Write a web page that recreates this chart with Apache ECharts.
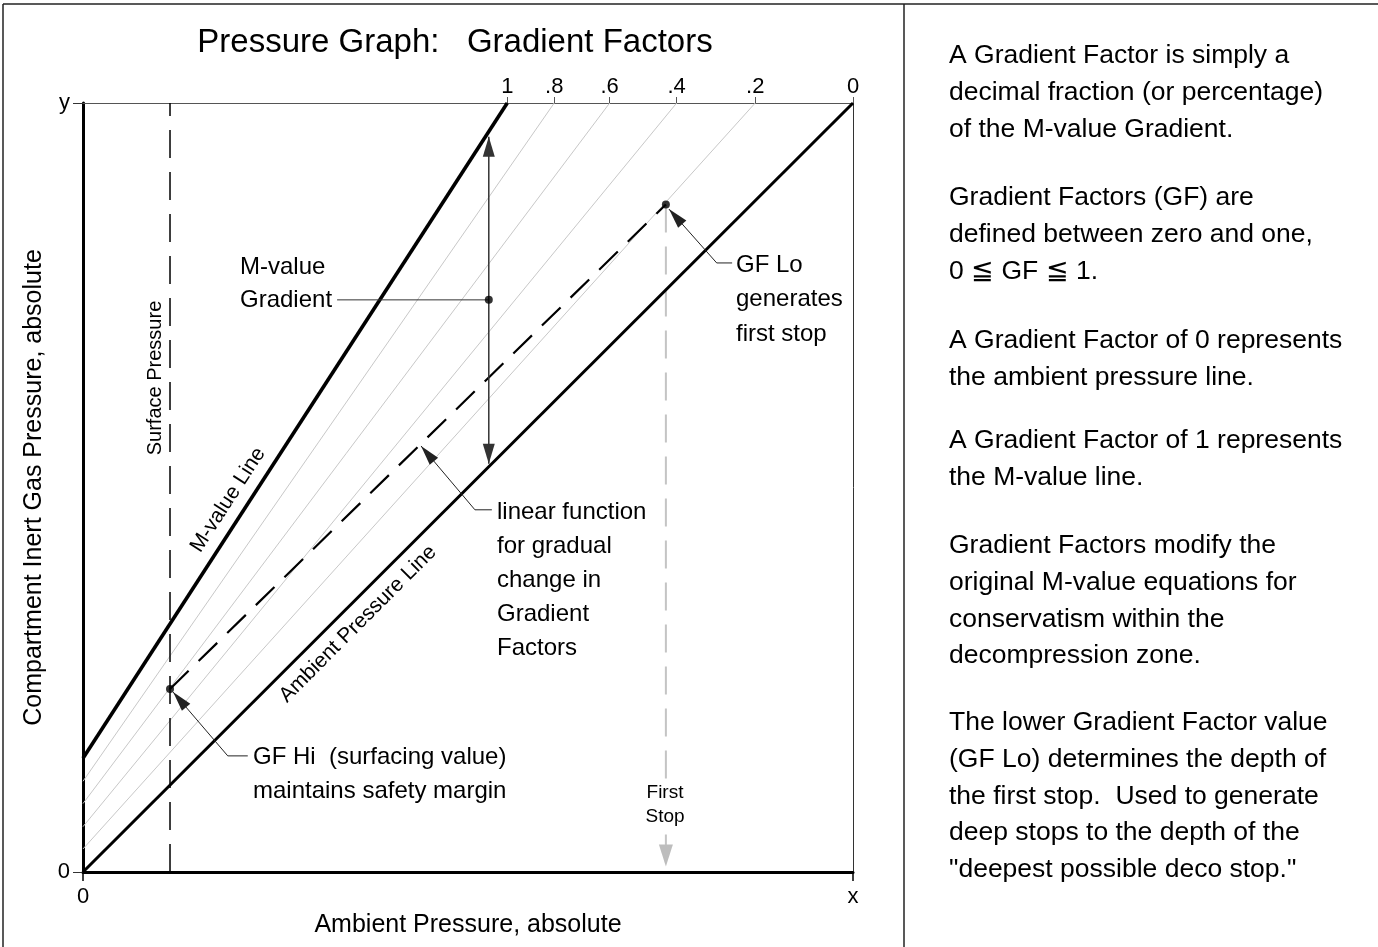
<!DOCTYPE html>
<html>
<head>
<meta charset="utf-8">
<title>Pressure Graph: Gradient Factors</title>
<script src="https://cdn.jsdelivr.net/npm/echarts@6.0.0/dist/echarts.min.js"></script>
<style>
  html, body { margin: 0; padding: 0; background: #fff; }
  #chart { width: 1378px; height: 947px; }
</style>
</head>
<body>
<div id="chart"></div>
<script>
// ---- values, both axes run 0..100 ----
const gfLabels = ['1', '.8', '.6', '.4', '.2', '0'];
const gfStartY = [14.8, 11.8, 8.9, 5.9, 3.0, 0];      // where each GF line leaves the y axis
const gfTopX   = [55.1, 61.2, 68.4, 77.1, 87.3, 100];  // where each GF line meets the top edge
const surfaceX = 11.3;
const gfHi = [11.3, 23.8];
const gfLo = [75.7, 86.8];
const gradientDot = [52.7, 74.4];
const gradientSpan = [[52.7, 95.6], [52.7, 53.1]];
const firstStopDrop = [[75.7, 86.8], [75.7, 0.7]];
const leaderGfLo = [[84.3, 79.2], [82.3, 79.2], [76.1, 86.2]];
const leaderGfHi = [[21.4, 15.1], [18.8, 15.1], [11.7, 23.4]];
const leaderLinear = [[53.1, 47.1], [50.9, 47.1], [43.9, 55.4]];
const leaderGradient = [[33.0, 74.4], [52.7, 74.4]];

const notes = [
  ['A Gradient Factor is simply a', 'decimal fraction (or percentage)', 'of the M-value Gradient.'],
  ['Gradient Factors (GF) are', 'defined between zero and one,', '0 \u2266 GF \u2266 1.'],
  ['A Gradient Factor of 0 represents', 'the ambient pressure line.'],
  ['A Gradient Factor of 1 represents', 'the M-value line.'],
  ['Gradient Factors modify the', 'original M-value equations for', 'conservatism within the', 'decompression zone.'],
  ['The lower Gradient Factor value', '(GF Lo) determines the depth of', 'the first stop.  Used to generate',
   'deep stops to the depth of the', '"deepest possible deco stop."']
];
const noteTops = [37.7, 179.7, 322.7, 422.7, 527.7, 704.7];

// =====================================================================
const FONT = '"Liberation Sans", Arial, Helvetica, sans-serif';
const chart = echarts.init(document.getElementById('chart'));

function segment(data, color, width, dash, z) {
  return {
    type: 'line', data, symbol: 'none', silent: true, clip: false, z,
    lineStyle: { color, width, type: dash || 'solid', cap: 'butt' }
  };
}

function head(tip, from, o) {
  const dx = tip[0] - from[0], dy = tip[1] - from[1];
  const len = Math.hypot(dx, dy), ux = dx / len, uy = dy / len;
  const bx = tip[0] - ux * o.len, by = tip[1] - uy * o.len, hw = o.head / 2;
  return {
    type: 'polygon',
    shape: { points: [tip, [bx - uy * hw, by + ux * hw], [bx + uy * hw, by - ux * hw]] },
    style: { fill: o.headColor || o.color }
  };
}

function arrowSeries(paths, o) {
  return {
    type: 'custom', silent: true, clip: false, z: o.z || 6,
    data: paths.map((p, i) => [p[0][0], p[0][1], i]),
    renderItem: (params, api) => {
      const pts = paths[params.dataIndex].map(p => api.coord(p));
      const n = pts.length;
      const kids = [{
        type: 'polyline', shape: { points: pts },
        style: { stroke: o.color, lineWidth: o.width, fill: null, lineDash: o.dash || null }
      }];
      if (o.len) kids.push(head(pts[n - 1], pts[n - 2], o));
      if (o.both) kids.push(head(pts[0], pts[1], o));
      return { type: 'group', children: kids };
    }
  };
}

function text(str, x, y, size, extra) {
  const e = extra || {};
  return {
    type: 'text', x, y, rotation: e.rotation || 0, silent: true, z: 10,
    style: {
      text: str, fontSize: size, fontFamily: FONT, fill: e.fill || '#000',
      align: e.align || 'left', verticalAlign: e.valign || 'top',
      lineHeight: e.lineHeight, backgroundColor: e.bg, padding: e.pad
    }
  };
}

const series = [];
for (let i = 1; i < gfLabels.length - 1; i++) {
  series.push(segment([[0, gfStartY[i]], [gfTopX[i], 100]], '#c8c8c8', 1, null, 1));
}
series.push(segment([[0, gfStartY[0]], [gfTopX[0], 100]], '#000', 3.6, null, 4));       // M-value line
series.push(segment([[0, 0], [100, 100]], '#000', 3, null, 4));                          // ambient line
series.push(segment([[surfaceX, 0], [surfaceX, 100]], '#000', 1.5, [28, 14], 3));        // surface pressure
series.push(segment([gfHi, gfLo], '#000', 2.2, [26, 14], 3));                            // linear GF function
series.push(arrowSeries([firstStopDrop], { color: '#c4c4c4', width: 2, dash: [28, 14], len: 22, head: 14, headColor: '#bdbdbd', z: 2 }));
series.push(arrowSeries([gradientSpan], { color: '#333', width: 1.5, len: 20, head: 12, both: true }));
series.push(arrowSeries([leaderGradient], { color: '#333', width: 1 }));
series.push(arrowSeries([leaderGfLo, leaderGfHi, leaderLinear], { color: '#222', width: 1, len: 20, head: 11 }));
series.push({
  type: 'scatter', data: [gfHi, gfLo, gradientDot], symbolSize: 8, silent: true, z: 8,
  itemStyle: { color: '#000' }
});

const graphic = [
  { type: 'line', shape: { x1: 3, y1: 4, x2: 1378, y2: 4 }, style: { stroke: '#222', lineWidth: 1.5 } },
  { type: 'line', shape: { x1: 3, y1: 4, x2: 3, y2: 947 }, style: { stroke: '#222', lineWidth: 1.5 } },
  { type: 'line', shape: { x1: 904, y1: 4, x2: 904, y2: 947 }, style: { stroke: '#222', lineWidth: 1.5 } },
  text('Pressure Graph:   Gradient Factors', 455, 43, 33, { align: 'center', valign: 'middle' }),
  text('M-value\nGradient', 240, 250.5, 24, { lineHeight: 33 }),
  text('GF Lo\ngenerates\nfirst stop', 736, 248, 24, { lineHeight: 34.5 }),
  text('linear function\nfor gradual\nchange in\nGradient\nFactors', 497, 495, 24, { lineHeight: 34 }),
  text('GF Hi  (surfacing value)\nmaintains safety margin', 253, 740, 24, { lineHeight: 34 }),
  text('First\nStop', 665, 779, 19, { align: 'center', lineHeight: 24, bg: '#fff', pad: [2, 0] }),
  text('Surface Pressure', 155, 378, 20, { align: 'center', valign: 'middle', rotation: Math.PI / 2 }),
  text('M-value Line', 228, 500, 21, { align: 'center', valign: 'middle', rotation: Math.atan(1.545) }),
  text('Ambient Pressure Line', 358, 624, 21, { align: 'center', valign: 'middle', rotation: Math.PI / 4 })
];
notes.forEach((lines, i) => {
  graphic.push(text(lines.join('\n'), 949, noteTops[i], 26.5, { lineHeight: 36.6 }));
});

const labelStyle = { fontSize: 22, color: '#000', fontFamily: FONT };

chart.setOption({
  animation: false,
  backgroundColor: '#fff',
  grid: { left: 83, top: 103, right: 525, bottom: 75, containLabel: false, outerBoundsMode: 'none' },
  xAxis: [
    {
      type: 'value', min: 0, max: 100, interval: 100, position: 'bottom',
      name: 'Ambient Pressure, absolute', nameLocation: 'middle', nameGap: 21,
      nameTextStyle: { fontSize: 25, color: '#000', fontFamily: FONT },
      axisLine: { show: true, onZero: false, lineStyle: { color: '#000', width: 3 } },
      axisTick: { show: true, length: 9, lineStyle: { color: '#000', width: 1.5 } },
      axisLabel: Object.assign({ formatter: v => (v === 0 ? '0' : 'x'), margin: 14 }, labelStyle),
      splitLine: { show: false }
    },
    {
      type: 'value', min: 0, max: 100, position: 'top',
      axisLine: { show: true, onZero: false, lineStyle: { color: '#555', width: 1 } },
      axisTick: { show: true, length: 6, customValues: gfTopX, lineStyle: { color: '#555', width: 1 } },
      axisLabel: Object.assign({
        customValues: gfTopX, margin: 5,
        formatter: v => gfLabels[gfTopX.indexOf(v)]
      }, labelStyle),
      splitLine: { show: false }
    }
  ],
  yAxis: [
    {
      type: 'value', min: 0, max: 100, interval: 100, position: 'left',
      name: 'Compartment Inert Gas Pressure, absolute', nameLocation: 'middle', nameGap: 28, nameRotate: 90,
      nameTextStyle: { fontSize: 25, color: '#000', fontFamily: FONT },
      axisLine: { show: true, onZero: false, lineStyle: { color: '#000', width: 3 } },
      axisTick: { show: true, length: 10, lineStyle: { color: '#333', width: 1 } },
      axisLabel: Object.assign({ formatter: v => (v === 0 ? '0' : 'y'), margin: 13 }, labelStyle),
      splitLine: { show: false }
    },
    {
      type: 'value', min: 0, max: 100, position: 'right',
      axisLine: { show: true, onZero: false, lineStyle: { color: '#333', width: 1 } },
      axisTick: { show: false }, axisLabel: { show: false }, splitLine: { show: false }
    }
  ],
  graphic,
  series
});

window.addEventListener('resize', () => chart.resize());
</script>
</body>
</html>
